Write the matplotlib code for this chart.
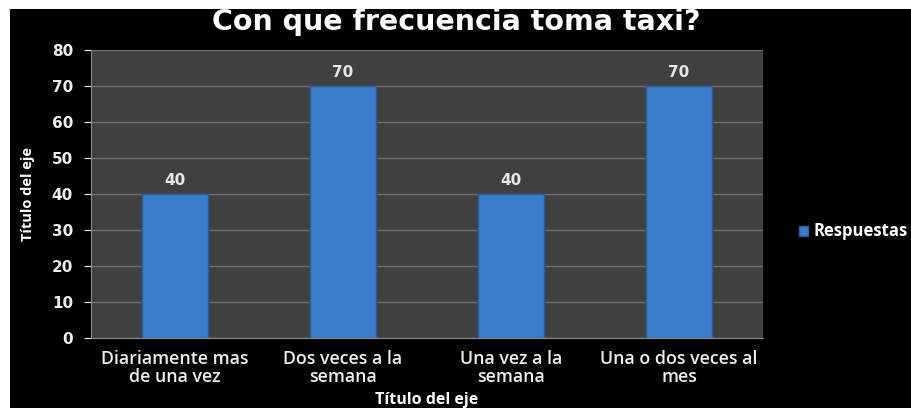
import numpy as np
import matplotlib.pyplot as plt
from matplotlib.patches import Patch, Rectangle

categories = ['Diariamente mas\nde una vez', 'Dos veces a la\nsemana', 'Una vez a la\nsemana', 'Una o dos veces al\nmes']
values = [40, 70, 40, 70]
series_name = 'Respuestas'

plt.rcParams['font.family'] = ['Open Sans', 'DejaVu Sans']

fig = plt.figure(figsize=(9.12, 4.08), dpi=100)
fig.patch.set_facecolor('white')
# black slide background, leaving the thin white margin top and left
fig.add_artist(Rectangle((10 / 912, -0.01), 1, 1.01 - 9 / 408, transform=fig.transFigure,
                         facecolor='black', edgecolor='none', zorder=0))

ax = fig.add_axes([0.0998, 0.1716, 0.7368, 0.7059])
ax.set_facecolor('#404040')

x = np.arange(len(categories))
bars = ax.bar(x, values, width=0.39, color='#3b7bcc', edgecolor='#2a5d9c', linewidth=1, zorder=3)
for b, v in zip(bars, values):
  ax.text(b.get_x() + b.get_width() / 2, v + 1.8, str(v), ha='center', va='bottom',
          color='#e8e8e8', fontsize=11, fontweight='bold', family='DejaVu Sans')

ax.set_xlim(-0.5, len(categories) - 0.5)
ax.set_ylim(0, 80)
ax.set_yticks(range(0, 81, 10))
ax.yaxis.grid(True, color='#6e6e6e', linewidth=1, zorder=0)
ax.set_xticks(x)
ax.set_xticklabels(categories, color='#eeeeee', fontsize=12.8, fontweight='semibold', linespacing=1.0)
ax.tick_params(axis='y', colors='#eeeeee', labelsize=11, length=5, pad=8)
ax.tick_params(axis='x', length=0, pad=9)
for lbl in ax.get_yticklabels():
  lbl.set_fontweight('bold')
  lbl.set_family('DejaVu Sans')
for side in ['top', 'right']:
  ax.spines[side].set_visible(False)
ax.spines['left'].set_color('#8a8a8a')
ax.spines['bottom'].set_color('#8a8a8a')

ax.set_xlabel('Título del eje', color='white', fontsize=11.5, fontweight='bold', labelpad=4)
ax.set_ylabel('Título del eje', color='white', fontsize=10.5, fontweight='bold', labelpad=12,
              fontstretch='condensed')

fig.text(0.5, 1 - 30 / 408, 'Con que frecuencia toma taxi?', color='white', fontsize=20.5,
         fontweight='bold', family='DejaVu Sans', ha='center', va='baseline')

leg = fig.legend(handles=[Patch(facecolor='#3b7bcc', edgecolor='#2a5d9c', label=series_name)],
                 loc='center left', bbox_to_anchor=(0.862, 0.435), frameon=False,
                 handlelength=0.7, handleheight=0.7, handletextpad=0.4)
for t in leg.get_texts():
  t.set_color('white')
  t.set_fontweight('bold')
  t.set_fontsize(12)

fig.savefig('out.png', dpi=100, facecolor=fig.get_facecolor())
